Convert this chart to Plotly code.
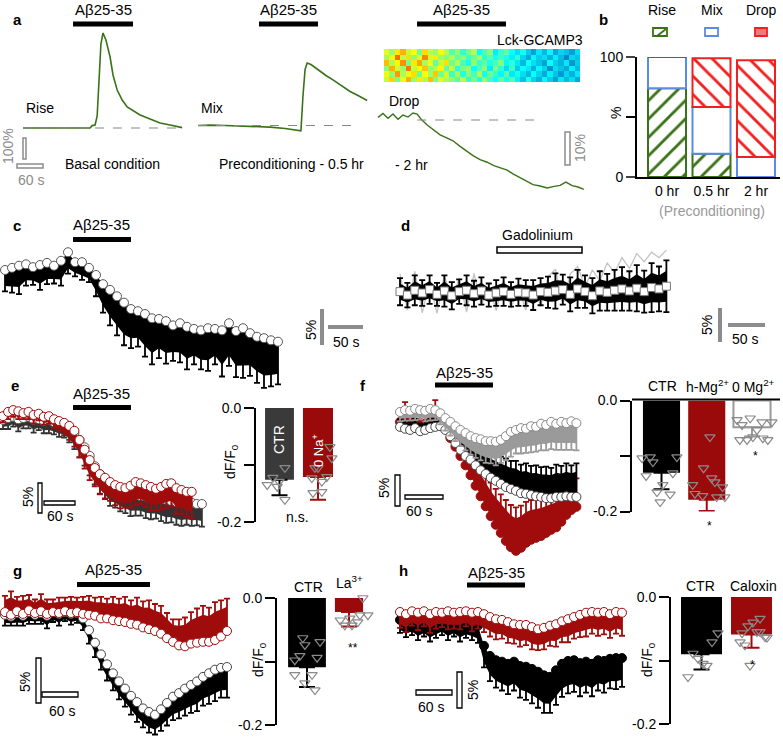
import plotly.graph_objects as go

W, H = 783, 740
FONT = "Liberation Sans, Arial, Helvetica, sans-serif"
DRED = "#a00c0c"
GREEN = "#3a7219"
GREY = "#8c8c8c"

# ---------------- data ----------------
# panel a (time s, dF/F %)
a_rise_t = [0, 29, 53, 77, 101, 125, 149, 161, 166, 173, 178, 182, 187, 192, 199, 209, 216, 226, 238, 250, 269, 281, 305, 329, 353, 382]
a_rise_v = [0, 0, -2, 0, -2, 0, -1, 0, 12, 15, 60, 250, 420, 475, 440, 355, 265, 190, 140, 105, 80, 65, 45, 25, 15, 2]
a_mix_t = [0, 29, 65, 101, 137, 173, 209, 238, 247, 252, 257, 262, 271, 281, 293, 307, 324, 341, 365, 384, 406]
a_mix_v = [0, 2, 0, -2, -3, -8, -15, -25, -27, 150, 280, 312, 305, 290, 270, 250, 228, 205, 170, 150, 125]
a_drop_t = [0, 12, 24, 36, 48, 60, 72, 84, 94, 103, 118, 132, 149, 166, 180, 197, 214, 228, 245, 262, 278, 293, 310, 324, 341, 358, 372, 389, 406, 420, 437, 451, 466, 480, 494]
a_drop_v = [0.8, 2.0, 0.5, 1.8, 0.2, 1.5, 0.9, 2.1, 1.8, 0.3, -1.5, -2.8, -4.5, -5.5, -6.3, -8.0, -9.5, -10.8, -12.0, -12.8,
            -13.8, -14.5, -15.2, -16.3, -17.5, -18.5, -19.6, -20.0, -20.6, -20.2, -19.8, -18.8, -19.9, -20.3, -21.0]
a_image = [
    [0.62, 0.71, 0.55, 0.66, 0.74, 0.58, 0.69, 0.61, 0.73, 0.56, 0.64, 0.60, 0.57, 0.52, 0.61, 0.49, 0.55, 0.47, 0.58, 0.50, 0.45, 0.53, 0.46, 0.51, 0.43, 0.38, 0.47, 0.40, 0.36, 0.44, 0.39, 0.34, 0.42, 0.37, 0.41, 0.35],
    [0.68, 0.57, 0.76, 0.60, 0.65, 0.70, 0.54, 0.67, 0.59, 0.72, 0.55, 0.63, 0.50, 0.59, 0.48, 0.56, 0.51, 0.60, 0.46, 0.54, 0.49, 0.44, 0.52, 0.42, 0.46, 0.41, 0.37, 0.45, 0.40, 0.35, 0.43, 0.38, 0.33, 0.40, 0.36, 0.42],
    [0.56, 0.74, 0.63, 0.58, 0.79, 0.62, 0.66, 0.72, 0.57, 0.61, 0.68, 0.53, 0.62, 0.48, 0.55, 0.58, 0.45, 0.52, 0.57, 0.43, 0.55, 0.48, 0.41, 0.50, 0.39, 0.45, 0.42, 0.36, 0.44, 0.40, 0.32, 0.41, 0.38, 0.35, 0.43, 0.37],
    [0.73, 0.60, 0.68, 0.77, 0.55, 0.69, 0.75, 0.59, 0.66, 0.53, 0.62, 0.70, 0.54, 0.60, 0.51, 0.46, 0.58, 0.49, 0.53, 0.47, 0.51, 0.56, 0.44, 0.48, 0.42, 0.37, 0.46, 0.41, 0.38, 0.34, 0.45, 0.39, 0.36, 0.42, 0.33, 0.39],
    [0.59, 0.66, 0.80, 0.61, 0.70, 0.57, 0.64, 0.78, 0.63, 0.69, 0.58, 0.56, 0.60, 0.53, 0.57, 0.50, 0.54, 0.59, 0.48, 0.52, 0.46, 0.50, 0.47, 0.43, 0.48, 0.40, 0.35, 0.44, 0.39, 0.41, 0.36, 0.43, 0.37, 0.31, 0.40, 0.38],
    [0.65, 0.58, 0.69, 0.74, 0.62, 0.67, 0.55, 0.70, 0.61, 0.58, 0.66, 0.61, 0.52, 0.57, 0.49, 0.55, 0.60, 0.45, 0.51, 0.56, 0.43, 0.49, 0.53, 0.45, 0.41, 0.46, 0.39, 0.34, 0.42, 0.37, 0.44, 0.35, 0.40, 0.38, 0.34, 0.41],
]

# panel b (%)
b_cats = ["0 hr", "0.5 hr", "2 hr"]
b_rise = [73.9, 19.4, 0]
b_mix = [26.1, 39.0, 16.7]
b_drop = [0, 40.5, 80.5]

# panel c
c_t = list(range(0, 400, 10))
c_val = [0, 0.3, 0.6, 0.8, 0.4, 0.7, 1.0, 0.6, 1.3, 2.5, 1.1, 1.1, 0.3, -0.7, -2.0, -2.8, -3.7, -4.6, -5.5, -5.8,
         -6.2, -6.8, -6.9, -7.2, -7.8, -7.5, -8.0, -8.3, -8.5, -8.2, -8.3, -8.5, -7.5, -8.6, -8.2, -8.9, -9.4, -9.6, -9.9, -10.1]
c_err = [3.0, 3.5, 4.0, 3.0, 2.5, 3.5, 3.0, 2.5, 3.5, 3.0, 2.0, 2.5, 2.0, 3.0, 4.0, 5.0, 5.5, 6.0, 5.5, 5.0,
         6.0, 6.5, 5.5, 6.0, 5.0, 5.5, 6.0, 5.0, 5.5, 6.0, 5.0, 6.5, 6.0, 6.5, 7.0, 6.0, 6.5, 7.0, 6.5, 6.0]

# panel d
d_t = list(range(0, 370, 10))
d_val = [0.2, -0.3, 0.4, 0.0, 0.5, -0.2, 0.3, -0.4, 0.2, 0.4, -0.1, 0.3, -0.3, 0.0, 0.2, -0.2, 0.1, 0.0, -0.3, 0.2,
         0.1, 0.3, 0.5, -0.2, 0.6, 0.2, -0.4, 0.3, 0.1, 0.4, 0.6, 0.3, 0.7, 0.2, 0.8, 0.6, 1.0]
d_err = [2.0, 1.8, 2.2, 1.9, 2.1, 1.7, 2.3, 2.0, 1.8, 2.2, 1.9, 2.0, 1.7, 1.9, 2.1, 1.8, 2.0, 1.9, 2.2, 2.0,
         2.3, 2.6, 2.2, 2.5, 2.8, 2.4, 2.6, 2.9, 2.7, 3.0, 3.2, 2.9, 3.4, 3.1, 3.6, 3.3, 3.8]
d_cell = [2.8, -2.5, 3.2, -2.9, 1.5, -3.0, 2.6, -1.2, 2.2, -2.8, 2.9, -1.8, 1.2, -2.6, 2.0, -2.2, 0.8, -2.5, 1.6, -2.0,
          2.4, 3.5, -1.8, 2.8, 3.9, 0.9, 3.4, 1.8, 4.4, 3.0, 5.2, 3.6, 5.8, 4.6, 6.0, 5.2, 6.3]

# panel e
e_t_ctr = list(range(0, 400, 10))
e_ctr = [-0.3, 0, 0.2, -0.2, 0, 0.2, -0.3, -0.2, -0.5, -0.3, -0.7, -0.8, -1.1, -1.6, -2.5, -3.6, -4.8, -6.2, -7.9, -9.2,
         -10.2, -11.0, -11.5, -11.8, -12.3, -12.5, -12.6, -12.8, -12.9, -12.9, -13.1, -13.3, -13.4, -13.6, -13.8, -13.8, -13.9, -13.9, -14.1, -14.1]
e_ctr_err = [1.5, 1.8, 1.6, 2.0, 1.7, 1.9, 2.1, 1.8, 2.0, 2.2, 2.0, 2.3, 2.1, 2.4, 2.6, 2.8, 3.0, 3.2, 3.0, 3.3,
             3.1, 3.4, 3.2, 3.5, 3.3, 3.6, 3.4, 3.2, 3.5, 3.7, 3.4, 3.6, 3.8, 3.5, 3.7, 3.9, 3.6, 3.8, 3.5, 3.7]
e_t_na = list(range(0, 380, 10))
e_na = [0.3, 1.0, 1.3, 1.1, 0.8, 1.0, 0.5, 0.7, 0.2, 0.3, -0.2, -0.5, -0.8, -1.3, -2.1, -3.6, -5.2, -6.9, -8.2, -9.2,
        -9.8, -10.5, -11.0, -11.3, -11.5, -11.1, -10.5, -10.7, -11.0, -11.3, -11.6, -11.3, -10.8, -10.7, -11.5, -11.8, -12.1, -12.1]
e_na_err = [1.0, 1.2, 1.1, 1.3, 1.0, 1.2, 1.4, 1.1, 1.3, 1.2, 1.5, 1.7, 2.0, 2.3, 2.6, 2.9, 3.1, 3.3, 3.0, 3.2,
            3.4, 3.1, 3.3, 3.5, 3.2, 3.6, 3.8, 3.4, 3.6, 3.9, 3.5, 3.7, 4.0, 3.8, 4.2, 3.9, 4.1, 4.3]
e_bar_names = ["CTR", "0 Na<sup>+</sup>"]
e_bar_mean = [-0.126, -0.121]
e_bar_sem = [0.027, 0.040]
e_pts_ctr = [-0.135, -0.138, -0.122, -0.105, -0.161, -0.129]
e_jit_ctr = [-0.32, -0.06, -0.17, 0.14, 0.14, -0.01]
e_pts_na = [-0.068, -0.088, -0.105, -0.105, -0.123, -0.129, -0.121, -0.149, -0.147, -0.203]
e_jit_na = [0.31, 0.36, -0.08, 0.0, -0.16, 0.10, 0.23, -0.13, 0.10, -0.23]

# panel f
f_t = list(range(0, 288, 8))
f_zero = [2.1, 2.4, 2.3, 2.6, 2.4, 2.3, 2.6, 2.4, 1.9, 1.1, 0.5, -0.2, -0.8, -1.3, -1.8, -2.1, -2.3, -2.6, -2.6, -2.7,
          -2.4, -1.8, -1.1, -0.8, -0.5, -0.6, -0.2, -0.3, 0.2, 0.0, 0.5, 0.2, 0.5, 0.3, 0.6, 0.3]
f_zero_err = [1.5, 1.7, 1.6, 1.8, 1.5, 1.7, 1.9, 1.6, 1.8, 2.0, 2.2, 2.4, 2.6, 2.8, 3.0, 3.2, 3.4, 3.5, 3.6, 3.8,
              3.7, 3.9, 4.0, 3.8, 4.1, 3.9, 4.2, 4.0, 4.3, 4.1, 4.4, 4.2, 4.5, 4.3, 4.6, 4.4]
f_ctr = [-0.3, -0.6, -0.8, -0.5, -1.0, -0.8, -0.5, -0.3, -0.2, -0.8, -1.8, -2.9, -4.0, -5.0, -5.6, -6.5, -7.3, -7.9, -8.5, -9.0,
         -9.5, -10.0, -10.3, -10.6, -11.0, -11.1, -11.3, -11.5, -11.6, -11.8, -11.8, -11.6, -11.6, -11.5, -11.6, -11.6]
f_ctr_err = [1.2, 1.4, 1.3, 1.5, 1.2, 1.4, 1.6, 1.3, 1.5, 1.8, 2.0, 2.4, 2.8, 3.0, 3.2, 3.4, 3.6, 3.8, 4.0, 4.2,
             4.4, 4.6, 4.5, 4.8, 4.6, 4.9, 4.7, 5.0, 4.8, 5.1, 4.9, 5.2, 5.0, 5.3, 5.1, 5.4]
f_mg = [0.5, 0.2, 0.3, 0, 0.2, -0.2, 0, 0.2, 0.3, -0.5, -2.1, -3.5, -5.0, -6.5, -8.1, -9.8, -11.5, -13.1, -14.7, -16.1,
        -17.4, -18.7, -19.7, -20.3, -19.8, -19.0, -18.5, -18.2, -17.9, -17.4, -16.9, -16.5, -15.6, -14.5, -13.7, -13.2]
f_mg_err = [1.5, 3.5, 1.4, 1.6, 1.3, 1.5, 1.7, 3.8, 1.6, 1.9, 2.2, 2.6, 3.0, 3.4, 3.8, 4.2, 4.6, 5.0, 5.4, 5.8,
            6.2, 6.6, 6.8, 7.0, 6.8, 6.6, 6.4, 6.2, 6.0, 5.8, 5.6, 5.4, 5.2, 5.0, 4.8, 4.6]
f_bar_names = ["CTR", "h-Mg<sup>2+</sup>", "0 Mg<sup>2+</sup>"]
f_bar_mean = [-0.130, -0.179, -0.048]
f_bar_sem = [0.030, 0.020, 0.017]
f_pts_ctr = [-0.104, -0.102, -0.111, -0.102, -0.136, -0.131, -0.152, -0.165, -0.169, -0.183]
f_jit_ctr = [-0.43, -0.25, -0.19, 0.34, -0.34, 0.25, 0.03, -0.10, 0.19, -0.03]
f_pts_mg = [-0.066, -0.122, -0.140, -0.147, -0.152, -0.156, -0.168, -0.172, -0.174, -0.174, -0.203, -0.239]
f_jit_mg = [0.07, -0.07, 0.11, 0.18, -0.31, 0.35, -0.26, -0.09, 0.22, 0.40, -0.31, 0.29]
f_pts_zero = [-0.035, -0.032, -0.039, -0.039, -0.044, -0.053, -0.071, -0.071, -0.066, -0.068, -0.071]
f_jit_zero = [-0.33, -0.04, 0.22, 0.44, -0.22, 0.11, -0.27, -0.11, 0.02, 0.24, 0.35]

# panel g
g_t = list(range(0, 380, 10))
g_la = [0.1, -0.2, 0.2, -0.1, 0.3, 0, 0.2, -0.1, 0.1, 0, 0.2, 0, 0.1, -0.1, -0.2, -0.3, -0.6, -0.6, -0.8, -0.9,
        -1.0, -1.2, -1.3, -1.6, -1.8, -2.0, -2.3, -2.8, -3.2, -3.6, -3.7, -3.4, -3.3, -3.2, -3.2, -3.0, -2.6, -2.0]
g_la_err = [1.8, 2.6, 1.6, 2.0, 1.7, 1.5, 1.9, 1.6, 1.4, 1.7, 1.5, 1.8, 1.6, 1.9, 2.1, 2.0, 2.4, 2.2, 2.6, 2.5,
            2.8, 2.6, 3.0, 2.9, 3.2, 3.0, 3.1, 2.8, 2.5, 2.9, 3.2, 3.5, 3.8, 4.0, 3.8, 4.2, 4.0, 3.6]
g_ctr = [-0.2, -0.4, 0, -0.3, 0.1, -0.2, 0, -0.3, 0.1, -0.1, 0.1, -0.1, 0, -0.6, -1.9, -3.3, -4.6, -5.7, -6.7, -7.6,
         -8.4, -9.2, -9.9, -10.6, -11.0, -11.3, -10.7, -10.0, -9.3, -8.9, -8.4, -8.0, -7.6, -7.1, -6.7, -6.3, -6.1, -6.0]
g_ctr_err = [1.2, 1.0, 1.4, 1.1, 1.3, 1.0, 1.2, 1.4, 1.1, 1.3, 1.0, 1.2, 1.1, 1.3, 1.5, 1.6, 1.7, 1.8, 1.9, 2.0,
             2.0, 2.1, 2.2, 2.1, 2.3, 2.2, 2.4, 2.5, 2.6, 2.8, 3.0, 3.1, 3.3, 3.2, 3.4, 3.5, 3.3, 3.4]
g_bar_names = ["CTR", "La<sup>3+</sup>"]
g_bar_mean = [-0.109, -0.022]
g_bar_sem = [0.031, 0.023]
g_pts_ctr = [-0.063, -0.069, -0.074, -0.091, -0.094, -0.098, -0.121, -0.121, -0.134, -0.145, -0.219]
g_jit_ctr = [-0.10, 0.31, -0.05, -0.17, 0.24, -0.29, -0.29, 0.12, -0.05, 0.19, 0.07]
g_pts_la = [0.008, 0.0, -0.027, -0.027, -0.032, -0.035, -0.043, -0.043, -0.038]
g_jit_la = [0.21, 0.33, 0.26, 0.45, 0.02, -0.21, -0.10, 0.07, 0.21]

# panel h
h_t = list(range(0, 380, 10))
h_cal = [0, -0.3, 0.1, -0.1, 0.1, -0.3, 0, -0.1, 0.1, -0.1, 0, 0.1, -0.1, 0, -0.3, -0.7, -1.0, -1.1, -1.4, -1.7,
         -1.8, -1.8, -2.1, -2.4, -2.2, -1.9, -1.7, -1.3, -1.0, -0.7, -0.4, -0.1, 0, -0.1, 0, -0.3, 0, -0.1]
h_cal_err = [2.2, 2.5, 2.0, 2.4, 2.1, 2.6, 2.3, 2.0, 2.5, 2.2, 2.4, 2.1, 2.6, 2.3, 2.5, 2.7, 2.8, 2.6, 2.9, 2.7,
             3.0, 2.8, 3.1, 2.9, 3.0, 2.8, 3.1, 2.9, 3.2, 3.0, 3.1, 3.3, 3.0, 3.2, 3.1, 3.3, 3.0, 3.2]
h_ctr = [-1.1, -1.5, -1.3, -1.7, -1.4, -1.8, -1.5, -1.3, -1.7, -1.4, -1.8, -1.5, -1.7, -1.9, -4.7, -6.1, -6.7, -6.9, -7.2, -6.9,
         -7.5, -7.6, -7.9, -8.3, -8.8, -9.0, -8.1, -7.2, -6.8, -6.7, -7.1, -6.9, -7.2, -6.7, -6.8, -6.5, -6.4, -6.4]
h_ctr_err = [1.8, 2.0, 1.9, 2.2, 2.0, 2.3, 2.1, 1.9, 2.2, 2.0, 2.3, 2.1, 2.2, 2.4, 3.0, 3.5, 3.8, 4.0, 4.2, 4.0,
             4.4, 4.6, 4.8, 5.0, 5.2, 5.0, 4.8, 4.6, 4.5, 4.4, 4.6, 4.3, 4.5, 4.2, 4.4, 4.1, 4.3, 4.0]
h_bar_names = ["CTR", "Caloxin"]
h_bar_mean = [-0.090, -0.059]
h_bar_sem = [0.024, 0.021]
h_pts_ctr = [-0.057, -0.071, -0.089, -0.097, -0.105, -0.108, -0.126]
h_jit_ctr = [0.33, 0.21, -0.17, -0.07, 0.03, 0.11, -0.27]
h_pts_cal = [-0.034, -0.040, -0.046, -0.057, -0.055, -0.055, -0.071, -0.076, -0.063, -0.064, -0.108]
h_jit_cal = [0.17, 0.03, -0.07, -0.19, 0.11, 0.17, -0.23, -0.13, 0.27, 0.31, -0.03]

# ---------------- helpers ----------------
fig = go.Figure()
shapes, annotations = [], []
n_ax = [0]


def X(p):
    return p / W


def Y(p):
    return 1 - p / H


def make_axes(left, top, right, bottom, xr, yr, xkw=None, ykw=None):
    n_ax[0] += 1
    n = n_ax[0]
    s = "" if n == 1 else str(n)
    xa = dict(domain=[X(left), X(right)], range=xr, anchor="y" + s, visible=False,
              showgrid=False, zeroline=False, fixedrange=True)
    ya = dict(domain=[Y(bottom), Y(top)], range=yr, anchor="x" + s, visible=False,
              showgrid=False, zeroline=False, fixedrange=True)
    if xkw:
        xa.update(xkw)
    if ykw:
        ya.update(ykw)
    fig.update_layout(**{"xaxis" + s: xa, "yaxis" + s: ya})
    return "x" + s, "y" + s


def scaled_axes(left, top, right, bottom, x0, pxs, y0, pxp):
    xr = [(left - x0) / pxs, (right - x0) / pxs]
    yr = [(y0 - bottom) / pxp, (y0 - top) / pxp]
    return make_axes(left, top, right, bottom, xr, yr)


def prect(x0, y0, x1, y1, fill=None, line=None, lw=1.5):
    shapes.append(dict(type="rect", xref="paper", yref="paper", x0=X(x0), x1=X(x1), y0=Y(y1), y1=Y(y0),
                       fillcolor=fill if fill else "rgba(0,0,0,0)",
                       line=dict(color=line if line else "rgba(0,0,0,0)", width=lw if line else 0)))


def pline(x0, y0, x1, y1, color="black", width=2, dash=None):
    shapes.append(dict(type="line", xref="paper", yref="paper", x0=X(x0), x1=X(x1), y0=Y(y0), y1=Y(y1),
                       line=dict(color=color, width=width, dash=dash)))


def txt(s, x, y, size=14, color="black", angle=0, xanchor="center", bold=False):
    annotations.append(dict(text=("<b>%s</b>" % s) if bold else s, x=X(x), y=Y(y), xref="paper", yref="paper",
                            showarrow=False, font=dict(size=size, color=color), textangle=angle,
                            xanchor=xanchor, yanchor="middle"))


def series(xa, ya, t, v, err, color, fill, edge, up=False, symbol="circle", size=8, ew=1):
    n = len(v)
    sgn = 1 if up else -1
    far = [a + sgn * 0.75 * e for a, e in zip(v, err)]
    fig.add_trace(go.Scatter(x=t, y=v, xaxis=xa, yaxis=ya, mode="lines", line=dict(width=0, color=color),
                             hoverinfo="skip"))
    fig.add_trace(go.Scatter(x=t, y=far, xaxis=xa, yaxis=ya, mode="lines", line=dict(width=0, color=color),
                             fill="tonexty", fillcolor=color, hoverinfo="skip"))
    fig.add_trace(go.Scatter(x=t, y=v, xaxis=xa, yaxis=ya, mode="markers", cliponaxis=False,
                             marker=dict(symbol=symbol, size=size, color=fill, line=dict(color=edge, width=ew)),
                             error_y=dict(type="data", symmetric=False,
                                          array=err if up else [0] * n,
                                          arrayminus=[0] * n if up else err,
                                          color=color, thickness=1.8, width=3)))


def abeta(x0, x1, ybar, ytxt):
    prect(x0, ybar - 2.5, x1, ybar + 2.5, fill="black")
    txt("Aβ25-35", (x0 + x1) / 2, ytxt, size=15)


def bar_panel(left, top, right, bottom, c0, spacing, names, means, sems, colors, ecolors, widths,
              pts, jits, outline=None):
    xr = [(left - c0) / spacing, (right - c0) / spacing]
    ykw = dict(visible=True, showline=True, linewidth=2, linecolor="black", ticks="outside", ticklen=10,
               tickwidth=2, tickcolor="black", tickvals=[0, -0.2], ticktext=["0.0", "-0.2"],
               tickfont=dict(size=14),
               minor=dict(tickvals=[-0.1], ticks="outside", ticklen=10, tickwidth=2, tickcolor="black",
                          showgrid=False))
    xa, ya = make_axes(left, top, right, bottom, xr, [-0.2, 0], ykw=ykw)
    for i in range(len(means)):
        line = dict(width=0)
        if outline and outline[i]:
            line = dict(width=2, color=outline[i])
        fig.add_trace(go.Bar(x=[i], y=[means[i]], width=[widths[i]], xaxis=xa, yaxis=ya, name=names[i],
                             marker=dict(color=colors[i], line=line),
                             error_y=dict(type="data", symmetric=False, array=[0], arrayminus=[sems[i]],
                                          color=ecolors[i], thickness=2, width=8)))
    for i in range(len(pts)):
        fig.add_trace(go.Scatter(x=[i + j for j in jits[i]], y=pts[i], xaxis=xa, yaxis=ya, mode="markers",
                                 cliponaxis=False,
                                 marker=dict(symbol="triangle-down-open", size=9, color="#8a8a8a",
                                             line=dict(width=1.2))))
    return xa, ya


# ---------------- panel a ----------------
txt("a", 17, 20, size=15, bold=True)
pxs_a = 25 / 60
xa, ya = scaled_axes(15, 25, 195, 140, 23, pxs_a, 128, 0.2)
fig.add_trace(go.Scatter(x=a_rise_t, y=a_rise_v, xaxis=xa, yaxis=ya, mode="lines", line=dict(color=GREEN, width=1.6)))
shapes.append(dict(type="line", xref=xa, yref=ya, x0=0, x1=382, y0=0, y1=0, line=dict(color="#888", width=1.2, dash="dash")))
xa, ya = scaled_axes(190, 25, 375, 140, 198, pxs_a, 125.5, 0.2)
fig.add_trace(go.Scatter(x=a_mix_t, y=a_mix_v, xaxis=xa, yaxis=ya, mode="lines", line=dict(color=GREEN, width=1.6)))
shapes.append(dict(type="line", xref=xa, yref=ya, x0=0, x1=389, y0=0, y1=0, line=dict(color="#888", width=1.2, dash="dash")))
xa, ya = scaled_axes(370, 95, 592, 200, 378, pxs_a, 120, 3.3)
fig.add_trace(go.Scatter(x=a_drop_t, y=a_drop_v, xaxis=xa, yaxis=ya, mode="lines", line=dict(color=GREEN, width=1.4)))
shapes.append(dict(type="line", xref=xa, yref=ya, x0=94, x1=396, y0=0, y1=0, line=dict(color="#888", width=1.2, dash="dash")))
xa, ya = make_axes(384, 49, 580, 82, [-0.5, 35.5], [-0.5, 5.5])
fig.add_trace(go.Heatmap(z=a_image, xaxis=xa, yaxis=ya, colorscale="Jet", zmin=0, zmax=1.12, showscale=False))

abeta(73, 133, 24, 10)
abeta(259, 318, 24, 10)
abeta(417, 506, 24, 10)
txt("Rise", 40, 108)
txt("Mix", 212, 108)
txt("Drop", 404, 101)
txt("Lck-GCAMP3", 585, 40, xanchor="right")
txt("Basal condition", 113, 164)
txt("Preconditioning - 0.5 hr", 291, 164)
txt("- 2 hr", 411, 165)
prect(23, 138, 26, 159, line=GREY, lw=1.5)
prect(17, 164, 43, 168, line=GREY, lw=1.5)
txt("100%", 8, 146, color=GREY, angle=-90)
txt("60 s", 31, 180, color=GREY)
prect(565, 132, 570, 165, line=GREY, lw=1.5)
txt("10%", 580, 148, color=GREY, angle=-90)

# ---------------- panel b ----------------
txt("b", 603, 20, size=15, bold=True)
b_xr = [(637 - 667) / 44.5, (780 - 667) / 44.5]
xa, ya = make_axes(637, 57, 780, 177, b_xr, [0, 100],
                   xkw=dict(visible=True, showline=True, linewidth=2, linecolor="black", ticks="",
                            tickvals=[0, 1, 2], ticktext=b_cats, tickfont=dict(size=14)),
                   ykw=dict(visible=True, showline=True, linewidth=2, linecolor="black", ticks="outside",
                            ticklen=9, tickwidth=2, tickvals=[0, 100], ticktext=["0", "100"],
                            tickfont=dict(size=14),
                            minor=dict(tickvals=[50], ticks="outside", ticklen=9, tickwidth=2,
                                       tickcolor="black", showgrid=False)))
b_base_mix = [r for r in b_rise]
b_base_drop = [r + m for r, m in zip(b_rise, b_mix)]
bw = 38 / 44.5
fig.add_trace(go.Bar(x=[0, 1, 2], y=b_rise, base=[0, 0, 0], width=bw, xaxis=xa, yaxis=ya, name="Rise",
                     marker=dict(color="white", line=dict(color=GREEN, width=2),
                                 pattern=dict(shape="/", fgcolor=GREEN, bgcolor="white", size=13, solidity=0.22))))
fig.add_trace(go.Bar(x=[0, 1, 2], y=b_mix, base=b_base_mix, width=bw, xaxis=xa, yaxis=ya, name="Mix",
                     marker=dict(color="white", line=dict(color="#5b8be6", width=2))))
fig.add_trace(go.Bar(x=[0, 1, 2], y=b_drop, base=b_base_drop, width=bw, xaxis=xa, yaxis=ya, name="Drop",
                     marker=dict(color="white", line=dict(color="#f02020", width=2),
                                 pattern=dict(shape="\\", fgcolor="#f02020", bgcolor="white", size=13, solidity=0.22))))
txt("%", 616, 113, angle=-90)
txt("(Preconditioning)", 712, 211, color="#999999")
txt("Rise", 662, 10)
txt("Mix", 712, 10)
txt("Drop", 761, 10)
prect(653, 28, 667, 36, fill="white", line=GREEN, lw=1.8)
pline(657, 36, 666, 29, color=GREEN, width=1.8)
prect(705, 28, 718, 36, fill="white", line="#5b8be6", lw=1.8)
prect(755, 28, 767, 36, fill="#f37a7a", line="#f02020", lw=1.8)

# ---------------- panel c ----------------
txt("c", 17, 225, size=15, bold=True)
xa, ya = scaled_axes(0, 235, 290, 400, 5, 0.70, 270, 7.1)
series(xa, ya, c_t, c_val, c_err, "black", "white", "#555555", size=9)
abeta(73, 131, 239.5, 224)
pline(322, 309, 322, 345, color=GREY, width=4)
pline(328, 327, 363, 327, color=GREY, width=4)
txt("5%", 311, 330, angle=-90)
txt("50 s", 346, 342)

# ---------------- panel d ----------------
txt("d", 405, 225, size=15, bold=True)
xa, ya = scaled_axes(395, 240, 680, 322, 400, 0.74, 293, 6.8)
fig.add_trace(go.Scatter(x=d_t, y=d_cell, xaxis=xa, yaxis=ya, mode="lines", line=dict(color="#c4c4c4", width=1.3)))
d_lo = [v - 0.6 * e for v, e in zip(d_val, d_err)]
d_hi = [v + 0.6 * e for v, e in zip(d_val, d_err)]
fig.add_trace(go.Scatter(x=d_t, y=d_lo, xaxis=xa, yaxis=ya, mode="lines", line=dict(width=0, color="black")))
fig.add_trace(go.Scatter(x=d_t, y=d_hi, xaxis=xa, yaxis=ya, mode="lines", line=dict(width=0, color="black"),
                         fill="tonexty", fillcolor="black"))
fig.add_trace(go.Scatter(x=d_t, y=d_val, xaxis=xa, yaxis=ya, mode="markers", cliponaxis=False,
                         marker=dict(symbol="square", size=8, color="white", line=dict(color="#777777", width=1)),
                         error_y=dict(type="data", array=d_err, color="black", thickness=1.8, width=3)))
prect(497, 247, 582, 253, fill="white", line="black", lw=1.5)
txt("Gadolinium", 537, 235)
pline(720, 308, 720, 342, color=GREY, width=4)
pline(728, 325, 765, 325, color=GREY, width=4)
txt("5%", 707, 325, angle=-90)
txt("50 s", 745, 339)

# ---------------- panel e ----------------
txt("e", 15, 385, size=15, bold=True)
xa, ya = scaled_axes(0, 395, 215, 545, 3, 0.51, 418, 6.1)
series(xa, ya, e_t_ctr, e_ctr, e_ctr_err, "#333333", "white", "#555555", size=9)
series(xa, ya, e_t_na, e_na, e_na_err, DRED, "white", DRED, size=9)
abeta(73, 131, 407.5, 393)
prect(38, 483, 42, 513, fill="white", line="black", lw=1.3)
prect(44, 501, 75, 505, fill="white", line="black", lw=1.3)
txt("5%", 28, 497, angle=-90)
txt("60 s", 60, 516)
bar_panel(256, 408, 345, 522, 279.5, 38.5, e_bar_names, e_bar_mean, e_bar_sem,
          ["#3a3a3a", "#9b0a0a"], ["black", DRED], [0.75, 0.78],
          [e_pts_ctr, e_pts_na], [e_jit_ctr, e_jit_na])
txt("CTR", 279, 440, color="white", angle=-90)
txt("0 Na<sup>+</sup>", 318, 451, size=13, color="white", angle=-90)
txt("dF/F<sub>0</sub>", 231, 462, angle=-90)
txt("n.s.", 297, 517)

# ---------------- panel f ----------------
txt("f", 363, 385, size=15, bold=True)
xa, ya = scaled_axes(395, 385, 592, 565, 400, 0.63, 425, 6.2)
series(xa, ya, f_t, f_mg, f_mg_err, DRED, DRED, DRED, up=True, size=9)
series(xa, ya, f_t, f_ctr, f_ctr_err, "black", "white", "#444444", up=True, size=9)
series(xa, ya, f_t, f_zero, f_zero_err, "#9a9a9a", "white", "#888888", size=9)
abeta(435, 493, 385, 372)
prect(395, 475, 400, 506, fill="white", line="black", lw=1.3)
prect(405, 495, 443, 499, fill="white", line="black", lw=1.3)
txt("5%", 384, 488, angle=-90)
txt("60 s", 419, 511)
bar_panel(632, 400.5, 782, 511.5, 661.5, 45.25, f_bar_names, f_bar_mean, f_bar_sem,
          ["black", "#9b0a0a", "white"], ["black", DRED, "#999999"], [0.82, 0.82, 0.82],
          [f_pts_ctr, f_pts_mg, f_pts_zero], [f_jit_ctr, f_jit_mg, f_jit_zero],
          outline=[None, None, "#999999"])
pline(632, 399.5, 780, 399.5, width=2)
txt("CTR", 662, 386)
txt("h-Mg<sup>2+</sup>", 707, 386)
txt("0 Mg<sup>2+</sup>", 753, 386)
txt("*", 709, 526, size=12)
txt("*", 755, 456, size=12)

# ---------------- panel g ----------------
txt("g", 17, 570, size=15, bold=True)
xa, ya = scaled_axes(0, 585, 240, 740, 5, 0.60, 613, 9.0)
series(xa, ya, g_t, g_ctr, g_ctr_err, "black", "white", "#444444", size=9)
series(xa, ya, g_t, g_la, g_la_err, DRED, "white", DRED, up=True, size=9)
abeta(77, 150, 584.5, 569)
prect(36, 658, 41, 703, fill="white", line="black", lw=1.3)
prect(42, 692, 78, 697, fill="white", line="black", lw=1.3)
txt("5%", 25, 682, angle=-90)
txt("60 s", 62, 711)
bar_panel(277, 598, 372, 725, 307, 42, g_bar_names, g_bar_mean, g_bar_sem,
          ["black", "#9b0a0a"], ["black", DRED], [0.9, 0.67],
          [g_pts_ctr, g_pts_la], [g_jit_ctr, g_jit_la])
txt("CTR", 308, 587)
txt("La<sup>3+</sup>", 349, 582)
txt("**", 353, 648, size=12)
txt("dF/F<sub>0</sub>", 259, 660, angle=-90)

# ---------------- panel h ----------------
txt("h", 403, 570, size=15, bold=True)
xa, ya = scaled_axes(395, 590, 640, 740, 400, 0.60, 612, 7.2)
series(xa, ya, h_t, h_ctr, h_ctr_err, "black", "black", "black", size=9)
series(xa, ya, h_t, h_cal, h_cal_err, DRED, "white", DRED, size=9)
abeta(467, 525, 585, 572)
prect(416, 690, 452, 695, fill="white", line="black", lw=1.3)
prect(457, 672, 462, 708, fill="white", line="black", lw=1.3)
txt("60 s", 431, 707)
txt("5%", 473, 690, angle=-90)
bar_panel(671, 597, 780, 724, 701.5, 50, h_bar_names, h_bar_mean, h_bar_sem,
          ["black", "#9b0a0a"], ["black", DRED], [0.82, 0.82],
          [h_pts_ctr, h_pts_cal], [h_jit_ctr, h_jit_cal])
txt("CTR", 700, 586)
txt("Caloxin", 753, 586)
txt("*", 752, 665, size=12)
txt("dF/F<sub>0</sub>", 648, 660, angle=-90)

fig.update_layout(width=W, height=H, margin=dict(l=0, r=0, t=0, b=0), template="none",
                  paper_bgcolor="white", plot_bgcolor="rgba(0,0,0,0)", showlegend=False,
                  barmode="overlay", font=dict(family=FONT, size=14, color="black"),
                  shapes=shapes, annotations=annotations)
fig.write_html("out.html", config={"displayModeBar": False},
               post_script="document.body.style.margin='0px';document.body.style.overflow='hidden';")
